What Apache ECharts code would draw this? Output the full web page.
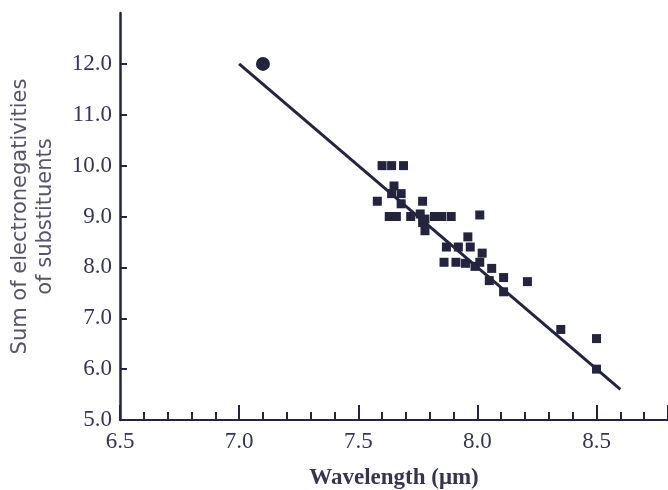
<!DOCTYPE html>
<html>
<head>
<meta charset="utf-8">
<script src="https://cdn.jsdelivr.net/npm/echarts@6/dist/echarts.min.js"></script>
<style>
html,body{margin:0;padding:0;background:#fff;}
#chart{width:668px;height:490px;}
</style>
</head>
<body>
<div id="chart"></div>
<script>
// Data: wavelength (µm) vs sum of electronegativities of substituents
const squareWavelength = [7.60, 7.64, 7.69, 7.65, 7.64, 7.68, 7.58, 7.77, 7.68, 7.63,
  7.66, 7.72, 7.76, 7.78, 7.82, 7.85, 7.89, 8.01, 7.77, 7.78,
  7.96, 7.87, 7.92, 7.97, 8.02, 7.86, 7.91, 7.95, 7.99, 8.01,
  8.06, 8.05, 8.11, 8.11, 8.21, 8.35, 8.50, 8.50];
const squareSum = [10.0, 10.0, 10.0, 9.6, 9.45, 9.45, 9.3, 9.3, 9.25, 9.0,
  9.0, 9.0, 9.05, 8.95, 9.0, 9.0, 9.0, 9.03, 8.88, 8.72,
  8.6, 8.4, 8.4, 8.4, 8.28, 8.1, 8.1, 8.08, 8.02, 8.1,
  7.98, 7.74, 7.8, 7.52, 7.72, 6.78, 6.6, 6.0];
const circleWavelength = [7.10];
const circleSum = [12.0];
const fitWavelength = [7.0, 8.6];
const fitSum = [12.0, 5.6];

const xTickLabels = [6.5, 7.0, 7.5, 8.0, 8.5];
const yTickLabels = [5, 6, 7, 8, 9, 10, 11, 12];
const yTicks = [6, 7, 8, 9, 10, 11, 12];

const ink = '#24243f';
const textInk = '#35354f';

const zip = (a, b) => a.map((v, i) => [v, b[i]]);

const chart = echarts.init(document.getElementById('chart'), null, {renderer: 'canvas'});
chart.setOption({
  animation: false,
  backgroundColor: '#ffffff',
  grid: {left: 120, right: 0, top: 13, bottom: 70, containLabel: false, outerBoundsMode: 'none'},
  xAxis: {
    type: 'value', min: 6.5, max: 8.8, interval: 0.5,
    name: 'Wavelength (μm)', nameLocation: 'middle', nameGap: 47,
    nameTextStyle: {fontFamily: 'Liberation Serif', fontWeight: 'bold', fontSize: 23, color: textInk},
    axisLine: {show: true, onZero: false, lineStyle: {color: ink, width: 2}},
    axisTick: {show: true, inside: true, length: 15, lineStyle: {color: ink, width: 2}},
    minorTick: {show: true, splitNumber: 5, length: 8, lineStyle: {color: ink, width: 2}},
    axisLabel: {show: true, customValues: xTickLabels, margin: 10,
      formatter: v => v.toFixed(1),
      fontFamily: 'Liberation Serif', fontSize: 23, color: textInk},
    splitLine: {show: false},
    minorSplitLine: {show: false}
  },
  yAxis: {
    type: 'value', min: 5, max: 13,
    name: 'Sum of electronegativities\nof substituents',
    nameLocation: 'middle', nameGap: 62, nameRotate: 90,
    nameTextStyle: {fontFamily: 'DejaVu Sans', fontSize: 21, lineHeight: 25, color: '#55556a', align: 'center'},
    axisLine: {show: true, onZero: false, lineStyle: {color: ink, width: 2.5}},
    axisTick: {show: true, inside: true, length: 7, customValues: yTicks, lineStyle: {color: ink, width: 2}},
    axisLabel: {show: true, customValues: yTickLabels, margin: 8,
      formatter: v => v.toFixed(1),
      fontFamily: 'Liberation Serif', fontSize: 23, color: textInk},
    splitLine: {show: false}
  },
  series: [{
    type: 'line',
    data: zip(fitWavelength, fitSum),
    showSymbol: false, symbol: 'none',
    lineStyle: {color: ink, width: 3},
    z: 2
  }, {
    type: 'scatter',
    data: zip(squareWavelength, squareSum),
    symbol: 'rect', symbolSize: 9,
    itemStyle: {color: ink, opacity: 1},
    z: 3
  }, {
    type: 'scatter',
    data: zip(circleWavelength, circleSum),
    symbol: 'circle', symbolSize: 14,
    itemStyle: {color: ink, opacity: 1},
    z: 3
  }]
});
</script>
</body>
</html>
